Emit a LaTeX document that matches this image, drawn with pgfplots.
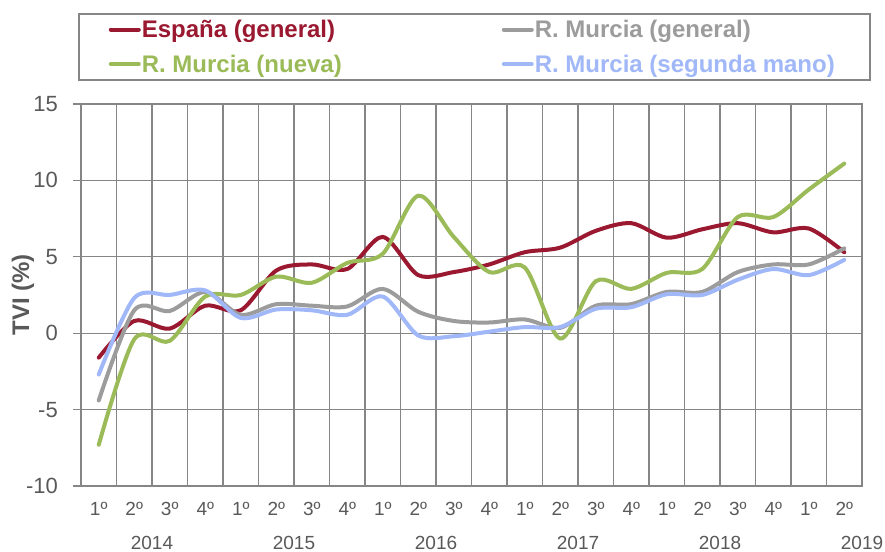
\documentclass[border=0pt]{standalone}
\usepackage{fontspec}
\setmainfont{Liberation Sans}
\usepackage{pgfplots}
\usepackage{pgfplotstable}
\pgfplotsset{compat=1.18}
\definecolor{cred}{HTML}{9A1830}
\definecolor{cgray}{HTML}{9C9C9C}
\definecolor{cgreen}{HTML}{9BBB59}
\definecolor{cblue}{HTML}{A0B7F8}
\definecolor{ctext}{HTML}{595959}
\definecolor{cgrid}{HTML}{868686}

\pgfplotstableread{
i esp gen nue seg
1 -1.6 -4.4 -7.3 -2.7
2 0.8 1.5 -0.4 2.3
3 0.3 1.45 -0.5 2.5
4 1.8 2.7 2.4 2.8
5 1.5 1.2 2.5 1.0
6 4.1 1.9 3.7 1.55
7 4.5 1.8 3.3 1.5
8 4.2 1.75 4.6 1.2
9 6.3 2.9 5.2 2.4
10 3.8 1.4 9.0 -0.15
11 4.0 0.8 6.3 -0.2
12 4.5 0.7 4.0 0.1
13 5.3 0.9 4.3 0.4
14 5.6 0.35 -0.35 0.4
15 6.7 1.8 3.4 1.6
16 7.2 1.9 2.9 1.7
17 6.25 2.7 3.95 2.55
18 6.8 2.7 4.2 2.5
19 7.2 4.0 7.6 3.5
20 6.6 4.5 7.6 4.2
21 6.85 4.5 9.4 3.8
22 5.3 5.55 11.1 4.8
}\data

\newcommand{\lgA}[2]{\makebox[360bp][l]{\rule[-6bp]{0pt}{24bp}\textcolor{#1}{#2}}}
\newcommand{\lgB}[2]{\makebox[305bp][l]{\rule[-6bp]{0pt}{24bp}\textcolor{#1}{#2}}}

\begin{document}
\begin{tikzpicture}[x=1bp,y=1bp]
\path[use as bounding box] (0,0) rectangle (885,552);
\begin{axis}[
  at={(81bp,66bp)}, anchor=south west,
  scale only axis, width=781bp, height=382bp,
  xmin=0.5, xmax=22.5, ymin=-10, ymax=15,
  clip mode=individual,
  xtick={1,...,22},
  xticklabels={1º,2º,3º,4º,1º,2º,3º,4º,1º,2º,3º,4º,1º,2º,3º,4º,1º,2º,3º,4º,1º,2º},
  minor xtick={0.5,1.5,...,22.5},
  xminorgrids, ymajorgrids,
  minor grid style={cgrid, line width=1.2bp},
  major grid style={cgrid, line width=1.2bp},
  ytick={-10,-5,0,5,10,15},
  yticklabels={-10,-5,0,5,10,15},
  axis line style={cgrid, line width=1.5bp},
  xtick style={draw=none},
  minor tick length=0pt,
  ytick pos=left,
  ytick align=outside,
  major tick length=8bp,
  ytick style={cgrid, line width=1.2bp},
  xticklabel style={font=\fontsize{19bp}{19bp}\selectfont, text=ctext, anchor=north, inner sep=0pt, yshift=-16.5bp},
  yticklabel style={font=\fontsize{22bp}{22bp}\selectfont, text=ctext, anchor=east, inner sep=0pt, xshift=-15bp},
  ylabel={TVI (\%)},
  ylabel style={font=\fontsize{24bp}{24bp}\selectfont\bfseries, text=ctext, at={(axis description cs:-0.0743,0.5)}, anchor=center},
  legend columns=2,
  legend style={at={(axis description cs:-0.0038,1.238)}, anchor=north west,
    draw=cgrid, line width=1.5bp, inner xsep=30bp, inner ysep=6bp,
    font=\fontsize{24bp}{24bp}\selectfont\bfseries,
    nodes={inner sep=0pt}, row sep=15bp,
    /tikz/every odd column/.append style={column sep=1bp}},
  legend cell align=left,
  legend image code/.code={\draw[#1] (0bp,0bp) -- (28bp,0bp);},
  every axis plot/.append style={line width=4bp, line cap=round, smooth},
]
\addplot[cred] table[x=i,y=esp]{\data};
\addlegendentry{\lgA{cred}{España (general)}}
\addplot[cgray] table[x=i,y=gen]{\data};
\addlegendentry{\lgB{cgray}{R. Murcia (general)}}
\addplot[cgreen] table[x=i,y=nue]{\data};
\addlegendentry{\lgA{cgreen}{R. Murcia (nueva)}}
\addplot[cblue] table[x=i,y=seg]{\data};
\addlegendentry{\lgB{cblue}{R. Murcia (segunda mano)}}
\foreach \xx/\yy in {2.5/2014,6.5/2015,10.5/2016,14.5/2017,18.5/2018,22.5/2019}{
  \edef\tmp{\noexpand\node[font=\noexpand\fontsize{19bp}{19bp}\noexpand\selectfont, text=ctext, anchor=north, inner sep=0pt] at (axis cs:\xx,-10) [yshift=-50bp] {\yy};}
  \tmp
}
\end{axis}
\end{tikzpicture}
\end{document}
